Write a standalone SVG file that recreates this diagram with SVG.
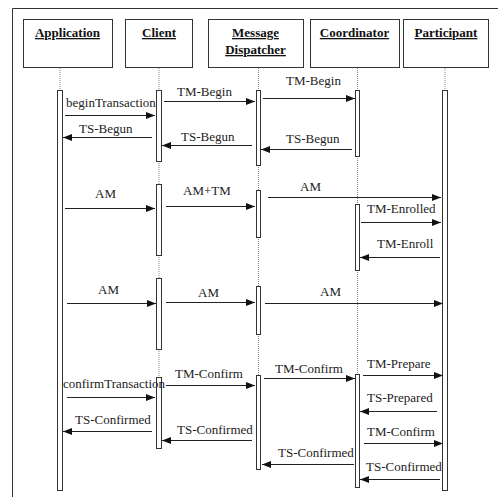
<svg xmlns="http://www.w3.org/2000/svg" width="498" height="497" viewBox="0 0 498 497">
<defs>
<marker id="ah" markerUnits="userSpaceOnUse" markerWidth="10" markerHeight="8" refX="9" refY="3.5" orient="auto">
<path d="M0,0 L9,3.5 L0,7 z" fill="#111"/>
</marker>
<style>
.box{fill:#fff;stroke:#333;stroke-width:1}
.hd{font-family:"Liberation Serif","Times New Roman",serif;font-size:13px;font-weight:bold;text-decoration:underline;fill:#111;text-anchor:middle}
.lbl{font-family:"Liberation Serif","Times New Roman",serif;font-size:13px;fill:#222}
.life{stroke:#888;stroke-width:1;stroke-dasharray:1,1;fill:none}
.bar{fill:#fff;stroke:#333;stroke-width:1}
.msg{stroke:#222;stroke-width:1;fill:none;marker-end:url(#ah)}
</style>
</defs>
<rect width="498" height="497" fill="#fff"/>
<path d="M12.5,497 V8.5 H498" fill="none" stroke="#333" stroke-width="1"/>

<g id="application">
<rect class="box" x="23.5" y="19.5" width="89" height="48"/>
<text class="hd" x="67.5" y="37">Application</text>
<line class="life" x1="60" y1="68" x2="60" y2="90"/>
<rect class="bar" x="57.5" y="90.5" width="5" height="400"/>
</g>

<g id="client">
<rect class="box" x="125.5" y="19.5" width="67" height="48"/>
<text class="hd" x="159" y="37">Client</text>
<path class="life" d="M159,68 V90 M159,161 V184 M159,255 V278 M159,349 V377"/>
<rect class="bar" x="156.5" y="90.5" width="5" height="71"/>
<rect class="bar" x="156.5" y="184.5" width="5" height="71"/>
<rect class="bar" x="156.5" y="278.5" width="5" height="71"/>
<rect class="bar" x="156.5" y="377.5" width="5" height="71"/>
</g>

<g id="message-dispatcher">
<rect class="box" x="208.5" y="19.5" width="95" height="48"/>
<text class="hd" x="255.5" y="37">Message</text>
<text class="hd" x="255.5" y="54">Dispatcher</text>
<path class="life" d="M258.5,68 V90 M258.5,165 V190 M258.5,237 V286 M258.5,334 V375"/>
<rect class="bar" x="256.5" y="90.5" width="4" height="75"/>
<rect class="bar" x="256.5" y="190.5" width="4" height="47"/>
<rect class="bar" x="256.5" y="286.5" width="4" height="48"/>
<rect class="bar" x="256.5" y="375.5" width="4" height="94"/>
</g>

<g id="coordinator">
<rect class="box" x="310.5" y="19.5" width="89" height="48"/>
<text class="hd" x="354.5" y="37">Coordinator</text>
<path class="life" d="M357.5,68 V90 M357.5,156 V204 M357.5,270 V374"/>
<rect class="bar" x="355.5" y="90.5" width="4" height="66"/>
<rect class="bar" x="355.5" y="204.5" width="4" height="66"/>
<rect class="bar" x="355.5" y="374.5" width="4" height="113"/>
</g>

<g id="participant">
<rect class="box" x="403.5" y="19.5" width="85" height="48"/>
<text class="hd" x="446" y="37">Participant</text>
<line class="life" x1="445" y1="68" x2="445" y2="90"/>
<rect class="bar" x="442.5" y="90.5" width="5" height="400"/>
</g>

<g id="connectors">
<line class="msg" x1="65" y1="115.5" x2="155" y2="115.5"/>
<line class="msg" x1="164" y1="101.5" x2="255" y2="101.5"/>
<line class="msg" x1="263" y1="98.5" x2="355" y2="98.5"/>
<line class="msg" x1="152" y1="137.5" x2="63" y2="137.5"/>
<line class="msg" x1="252" y1="145.5" x2="162" y2="145.5"/>
<line class="msg" x1="352" y1="149.5" x2="261" y2="149.5"/>
<line class="msg" x1="65" y1="208.5" x2="155" y2="208.5"/>
<line class="msg" x1="166" y1="206.5" x2="255" y2="206.5"/>
<line class="msg" x1="268" y1="197.5" x2="441" y2="197.5"/>
<line class="msg" x1="361" y1="222.5" x2="441" y2="222.5"/>
<line class="msg" x1="440" y1="257.5" x2="360" y2="257.5"/>
<line class="msg" x1="67" y1="303.5" x2="156" y2="303.5"/>
<line class="msg" x1="166" y1="302.5" x2="255" y2="302.5"/>
<line class="msg" x1="265" y1="303.5" x2="443" y2="303.5"/>
<line class="msg" x1="67" y1="397.5" x2="155" y2="397.5"/>
<line class="msg" x1="166" y1="385.5" x2="255" y2="385.5"/>
<line class="msg" x1="264" y1="378.5" x2="355" y2="378.5"/>
<line class="msg" x1="363" y1="375.5" x2="443" y2="375.5"/>
<line class="msg" x1="437" y1="411.5" x2="360" y2="411.5"/>
<line class="msg" x1="364" y1="443.5" x2="443" y2="443.5"/>
<line class="msg" x1="354" y1="464.5" x2="262" y2="464.5"/>
<line class="msg" x1="440" y1="479.5" x2="360" y2="479.5"/>
<line class="msg" x1="152" y1="431.5" x2="63" y2="431.5"/>
<line class="msg" x1="252" y1="440.5" x2="162" y2="440.5"/>
</g>

<g id="labels">
<text class="lbl" x="66" y="107">beginTransaction</text>
<text class="lbl" x="177" y="96">TM-Begin</text>
<text class="lbl" x="286" y="85">TM-Begin</text>
<text class="lbl" x="79" y="133">TS-Begun</text>
<text class="lbl" x="181" y="141">TS-Begun</text>
<text class="lbl" x="286" y="143">TS-Begun</text>
<text class="lbl" x="95" y="198">AM</text>
<text class="lbl" x="183" y="195">AM+TM</text>
<text class="lbl" x="300" y="191">AM</text>
<text class="lbl" x="367" y="213">TM-Enrolled</text>
<text class="lbl" x="377" y="248">TM-Enroll</text>
<text class="lbl" x="98" y="294">AM</text>
<text class="lbl" x="198" y="297">AM</text>
<text class="lbl" x="320" y="296">AM</text>
<text class="lbl" x="63" y="388">confirmTransaction</text>
<text class="lbl" x="175" y="378">TM-Confirm</text>
<text class="lbl" x="275" y="373">TM-Confirm</text>
<text class="lbl" x="367" y="368">TM-Prepare</text>
<text class="lbl" x="367" y="402">TS-Prepared</text>
<text class="lbl" x="367" y="436">TM-Confirm</text>
<text class="lbl" x="278" y="457">TS-Confirmed</text>
<text class="lbl" x="366" y="471">TS-Confirmed</text>
<text class="lbl" x="75" y="424">TS-Confirmed</text>
<text class="lbl" x="177" y="434">TS-Confirmed</text>
</g>
</svg>
